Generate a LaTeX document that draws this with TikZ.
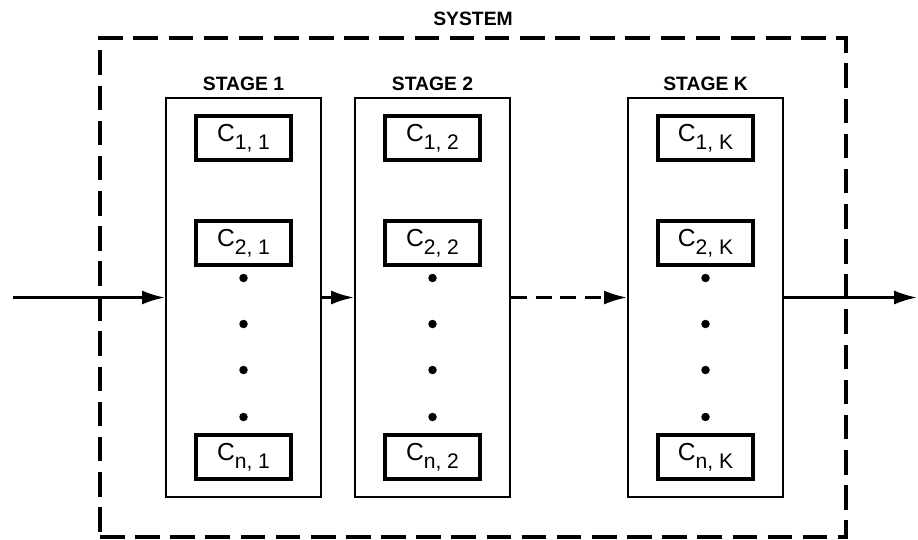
\documentclass[tikz,border=0pt]{standalone}
\usepackage{fontspec}
\setmainfont{Liberation Sans}
\usetikzlibrary{arrows.meta, positioning}

\newcommand{\cidx}[2]{C\raisebox{-0.65ex}{\fontsize{12}{12}\selectfont #1, #2}}

\begin{document}
\begin{tikzpicture}[x=0.02cm, y=-0.02cm,
  stagebox/.style={draw, line width=1.3pt, minimum width=3.1cm, minimum height=7.98cm},
  cbox/.style={draw, line width=2.6pt, minimum width=1.9cm, minimum height=0.88cm,
               font=\fontsize{14}{14}\selectfont},
  lbl/.style={font=\bfseries\fontsize{11}{11}\selectfont, inner sep=0pt},
  sysbox/.style={draw, line width=1.9pt, dash pattern=on 14pt off 6pt,
                 minimum width=14.92cm, minimum height=9.98cm},
  arr/.style={-{Latex[length=13pt, width=8pt]}, line width=1.5pt}
]
  \useasboundingbox (0,0) rectangle (918,540);

  \node[sysbox] (sys) at (473,287.5) {};
  \node[lbl, above=0.2cm of sys.north] (syslbl) {SYSTEM};

  \node[stagebox] (s1) at (243.5,297.5) {};
  \node[stagebox] (s2) at (432.5,297.5) {};
  \node[stagebox] (sk) at (705.5,297.5) {};
  \node[lbl, above=0.12cm of s1] (l1) {STAGE 1};
  \node[lbl, above=0.12cm of s2] (l2) {STAGE 2};
  \node[lbl, above=0.12cm of sk] (lk) {STAGE K};

  \node[cbox] (c11) at (243.5,138) {\cidx{1}{1}};
  \node[cbox] (c21) at (243.5,243) {\cidx{2}{1}};
  \node[cbox] (cn1) at (243.5,457) {\cidx{n}{1}};
  \node[cbox] (c12) at (432.5,138) {\cidx{1}{2}};
  \node[cbox] (c22) at (432.5,243) {\cidx{2}{2}};
  \node[cbox] (cn2) at (432.5,457) {\cidx{n}{2}};
  \node[cbox] (c1k) at (705.5,138) {\cidx{1}{K}};
  \node[cbox] (c2k) at (705.5,243) {\cidx{2}{K}};
  \node[cbox] (cnk) at (705.5,457) {\cidx{n}{K}};

  % dots between C_2 and C_n
  \foreach \x in {243.5, 432.5, 705.5}
    \foreach \y in {278, 324, 370, 417}
      \fill (\x,\y) circle (0.085cm);

  \coordinate (in)  at (13,297.5);
  \coordinate (out) at (917,297.5);
  \draw[arr] (in) -- (s1);
  \draw[arr] (s1) -- (s2);
  \draw[arr, dash pattern=on 9pt off 5pt] (s2) -- (sk);
  \draw[arr] (sk) -- (out);
\end{tikzpicture}
\end{document}
